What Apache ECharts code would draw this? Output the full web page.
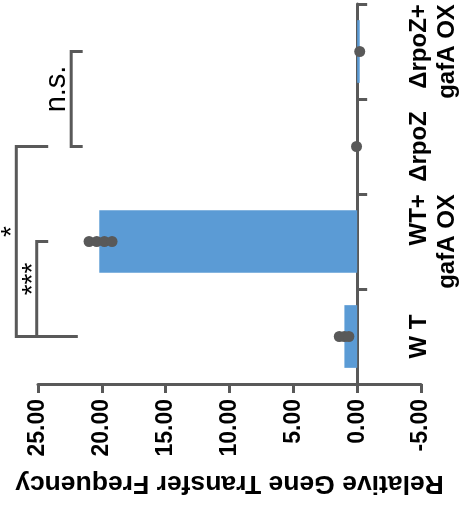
<!DOCTYPE html>
<html><head><meta charset="utf-8">
<script src="https://cdn.jsdelivr.net/npm/echarts@6/dist/echarts.min.js"></script>
<style>html,body{margin:0;padding:0;background:#fff}#c{width:461px;height:514px}</style>
</head><body><div id="c"></div>
<script>
// ---- data ----
const categories = ['W T', 'WT+\ngafA OX', 'ΔrpoZ', 'ΔrpoZ+\ngafA OX'];
const meanValues = [1.0, 20.2, 0.0, -0.2];
const replicateValues = [
  [1.4, 1.0, 0.65],
  [21.0, 20.4, 19.8, 19.2],
  [0.05],
  [-0.2]
];
const valueMin = -5, valueMax = 25, valueStep = 5;
// significance brackets: [bracket value, from category, to category, from tick end, to tick end, label]
const brackets = [
  [22.4, 3, 2, 21.5, 21.5, 'n.s.'],
  [25.1, 1, 0, 24.2, 21.9, '***'],
  [26.7, 2, 0, 24.2, 21.9, '*']
];
const axisTitle = 'Relative Gene Transfer Frequency';

// ---- chart ----
const GREY = '#595959';
const chart = echarts.init(document.getElementById('c'), null, {renderer: 'canvas'});
const dots = [];
replicateValues.forEach((arr, ci) => arr.forEach(v => dots.push([v, ci])));

const labelStyle = {'n.s.': {gap: 14, font: 'normal 29px "Liberation Sans", Arial, sans-serif'},
                    '***': {gap: 3, font: 'normal 28px "Liberation Sans", Arial, sans-serif'},
                    '*': {gap: 4, font: 'normal 28px "Liberation Sans", Arial, sans-serif'}};

chart.setOption({
  animation: false,
  backgroundColor: '#fff',
  grid: {left: 38, right: 40, top: 4, bottom: 130, containLabel: false, outerBoundsMode: 'none'},
  xAxis: {
    type: 'value', inverse: true, min: valueMin, max: valueMax, interval: valueStep,
    position: 'bottom',
    name: axisTitle, nameLocation: 'middle', nameRotate: 180, nameGap: 86,
    nameTextStyle: {color: '#000', fontWeight: 'bold', fontSize: 26.5, fontFamily: '"Liberation Sans", Arial, sans-serif'},
    axisLine: {show: true, lineStyle: {color: GREY, width: 3}},
    axisTick: {show: true, length: 9, lineStyle: {color: GREY, width: 3}},
    splitLine: {show: false},
    axisLabel: {rotate: 90, margin: 15, color: '#000', fontWeight: 'bold', fontSize: 23,
      fontFamily: '"Liberation Sans", Arial, sans-serif', hideOverlap: false,
      formatter: v => v.toFixed(2)}
  },
  yAxis: {
    type: 'category', data: categories, position: 'right',
    axisLine: {show: true, onZero: true, lineStyle: {color: GREY, width: 3}},
    axisTick: {show: true, length: 10, lineStyle: {color: GREY, width: 3}},
    axisLabel: {rotate: 90, margin: -16, interval: 0, hideOverlap: false, color: '#000', fontWeight: 'bold', fontSize: 24,
      fontFamily: '"Liberation Sans", Arial, sans-serif', lineHeight: 28,
      formatter: v => v.split('\n').map(s => '{a|' + s + '}').join('\n'),
      rich: {a: {align: 'right', color: '#000', fontWeight: 'bold', fontSize: 24, lineHeight: 28,
        fontFamily: '"Liberation Sans", Arial, sans-serif'}}}
  },
  series: [
    {type: 'bar', data: meanValues, barWidth: '66%', itemStyle: {color: '#5B9BD5'}, z: 1},
    {type: 'scatter', data: dots, symbolSize: 11, itemStyle: {color: GREY, opacity: 1}, z: 3},
    {
      type: 'custom', coordinateSystem: 'cartesian2d', clip: false, silent: true, z: 4,
      data: brackets.map(b => [b[0], b[1]]),
      renderItem: (params, api) => {
        const b = brackets[params.dataIndex];
        const top = api.coord([b[0], b[1]]);
        const bot = api.coord([b[0], b[2]]);
        const topEnd = api.coord([b[3], b[1]]);
        const botEnd = api.coord([b[4], b[2]]);
        const ls = labelStyle[b[5]];
        return {
          type: 'group',
          children: [
            {type: 'polyline', shape: {points: [topEnd, top, bot, botEnd]},
             style: {stroke: GREY, lineWidth: 3, fill: null, lineJoin: 'miter'}},
            {type: 'text', x: top[0] - ls.gap, y: (top[1] + bot[1]) / 2 - 10, rotation: Math.PI / 2,
             style: {text: b[5], font: ls.font, fill: '#000', align: 'center', verticalAlign: 'middle'}}
          ]
        };
      }
    }
  ]
});
</script></body></html>
